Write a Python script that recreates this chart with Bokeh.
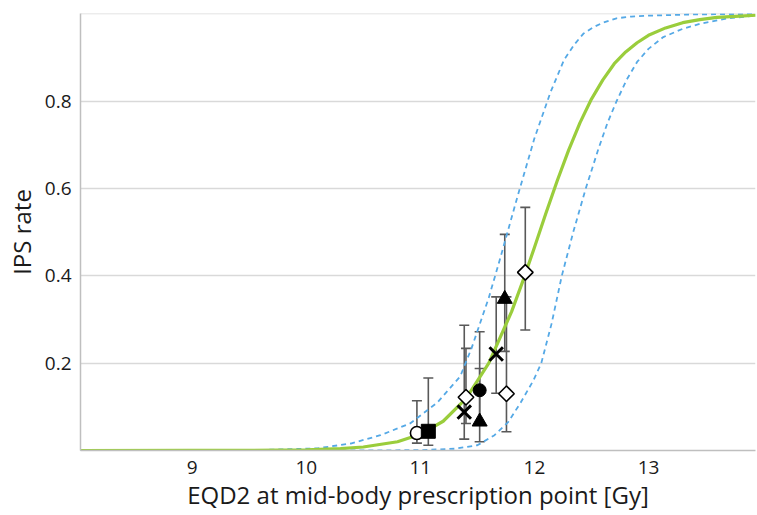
import math
from bokeh.plotting import figure
from bokeh.models import FixedTicker, Range1d, ColumnDataSource
from bokeh.embed import file_html
from bokeh.resources import INLINE

# ---- data ----
# fitted dose-response curve (green)
fit_x = [8.02, 9.0, 9.5, 10.0, 10.3, 10.5, 10.8, 11.0, 11.2, 11.4, 11.6, 11.8, 11.9, 12.0,
         12.1, 12.2, 12.3, 12.4, 12.5, 12.6, 12.7, 12.8, 12.9, 13.0, 13.15, 13.3, 13.45,
         13.6, 13.8, 13.94]
fit_y = [0.0, 0.0001, 0.0004, 0.0017, 0.0045, 0.008, 0.020, 0.037, 0.067, 0.119, 0.200,
         0.318, 0.389, 0.465, 0.543, 0.618, 0.688, 0.751, 0.805, 0.849, 0.886, 0.913,
         0.934, 0.951, 0.968, 0.980, 0.987, 0.992, 0.995, 0.997]
# upper confidence band (left dashed curve)
band_hi_x = [8.02, 9.5, 10.1, 10.39, 10.65, 10.91, 11.15, 11.35, 11.45, 11.6, 11.7, 11.85,
             12.0, 12.14, 12.26, 12.35, 12.43, 12.52, 12.6, 12.72, 12.85, 13.0, 13.4, 13.94]
band_hi_y = [0.0, 0.0005, 0.005, 0.016, 0.035, 0.062, 0.11, 0.17, 0.235, 0.35, 0.44, 0.58,
             0.715, 0.82, 0.895, 0.93, 0.955, 0.97, 0.98, 0.99, 0.994, 0.996, 0.999, 1.0]
# lower confidence band (right dashed curve)
band_lo_x = [8.02, 10.5, 11.0, 11.3, 11.5, 11.65, 11.77, 11.88, 11.99, 12.06, 12.15, 12.24,
             12.34, 12.45, 12.56, 12.64, 12.72, 12.81, 12.9, 13.0, 13.13, 13.3, 13.46,
             13.7, 13.94]
band_lo_y = [0.0, 0.0, 0.0008, 0.004, 0.012, 0.035, 0.065, 0.11, 0.16, 0.20, 0.29, 0.40,
             0.50, 0.60, 0.69, 0.75, 0.80, 0.85, 0.89, 0.92, 0.947, 0.966, 0.978, 0.99,
             0.996]

# observed rates with confidence intervals
pt_x = [10.97, 11.07, 11.40, 11.385, 11.52, 11.52, 11.665, 11.74, 11.755, 11.92]
pt_y = [0.040, 0.044, 0.122, 0.088, 0.138, 0.066, 0.221, 0.347, 0.130, 0.408]
pt_lo = [0.017, 0.012, 0.062, 0.026, 0.060, 0.020, 0.131, 0.227, 0.043, 0.276]
pt_hi = [0.114, 0.166, 0.234, 0.287, 0.272, 0.188, 0.352, 0.495, 0.352, 0.557]
pt_kind = ["open_circle", "square", "open_diamond", "cross", "circle", "triangle",
           "cross", "triangle", "open_diamond", "open_diamond"]

y_ticks = [0.2, 0.4, 0.6, 0.8]
y_grid = [0.2, 0.4, 0.6, 0.8, 1.0]
x_ticks = [9, 10, 11, 12, 13]

# ---- styling per marker kind ----
style = {
    "open_circle": ("circle", "white", 13, 1.6, 0.0),
    "square": ("square", "black", 14, 1.0, 0.0),
    "open_diamond": ("square", "white", 11, 1.6, math.pi / 4),
    "cross": ("x", "black", 19, 3.0, 0.0),
    "circle": ("circle", "black", 13, 1.0, 0.0),
    "triangle": ("triangle", "black", 15, 1.0, 0.0),
}

FONT = "Open Sans"

p = figure(width=757, height=515, output_backend="svg", toolbar_location=None,
           x_range=Range1d(8.021, 13.938), y_range=Range1d(0, 1.001),
           min_border_left=80, min_border_right=2, min_border_top=13, min_border_bottom=65)
p.outline_line_color = None
p.background_fill_color = "white"
p.border_fill_color = "white"

# grid
p.xgrid.grid_line_color = None
p.ygrid.ticker = FixedTicker(ticks=y_grid)
p.ygrid.grid_line_color = "#d9d9d9"
p.ygrid.grid_line_width = 1.5

# axes
p.yaxis.ticker = FixedTicker(ticks=y_ticks)
p.xaxis.ticker = FixedTicker(ticks=x_ticks)
for ax in (p.xaxis[0], p.yaxis[0]):
    ax.axis_line_color = "#bfbfbf"
    ax.axis_line_width = 1.5
    ax.major_tick_line_color = None
    ax.minor_tick_line_color = None
    ax.major_tick_out = 0
    ax.major_tick_in = 0
    ax.minor_tick_out = 0
    ax.minor_tick_in = 0
    ax.major_label_text_font = FONT
    ax.major_label_text_font_size = "19px"
    ax.major_label_text_color = "#1a1a1a"
    ax.axis_label_text_font = FONT
    ax.axis_label_text_font_size = "24px"
    ax.axis_label_text_font_style = "normal"
    ax.axis_label_text_color = "#1a1a1a"
p.xaxis.axis_label = "EQD2 at mid-body prescription point [Gy]"
p.yaxis.axis_label = "IPS rate"
p.xaxis.major_label_standoff = 10
p.xaxis.axis_label_standoff = 1
p.yaxis.major_label_standoff = 9
p.yaxis.axis_label_standoff = 4

# error bars (stems + caps)
p.segment(x0=pt_x, y0=pt_lo, x1=pt_x, y1=pt_hi, line_color="#595959", line_width=1.6)
p.scatter(x=pt_x + pt_x, y=pt_lo + pt_hi, marker="dash", size=10,
          line_color="#595959", line_width=1.6)

# confidence bands and fitted curve
p.line(band_hi_x, band_hi_y, line_color="#55a9e6", line_width=1.8, line_dash="5 4")
p.line(band_lo_x, band_lo_y, line_color="#55a9e6", line_width=1.8, line_dash="5 4")
p.line(fit_x, fit_y, line_color="#9acd3c", line_width=3.2, line_join="round")

# markers
src = ColumnDataSource(dict(
    x=pt_x, y=pt_y,
    marker=[style[k][0] for k in pt_kind],
    fill=[style[k][1] for k in pt_kind],
    size=[style[k][2] for k in pt_kind],
    lw=[style[k][3] for k in pt_kind],
    angle=[style[k][4] for k in pt_kind],
))
p.scatter(x="x", y="y", marker="marker", size="size", angle="angle",
          fill_color="fill", line_color="black", line_width="lw", source=src)

open("out.html", "w").write(file_html(p, INLINE))
